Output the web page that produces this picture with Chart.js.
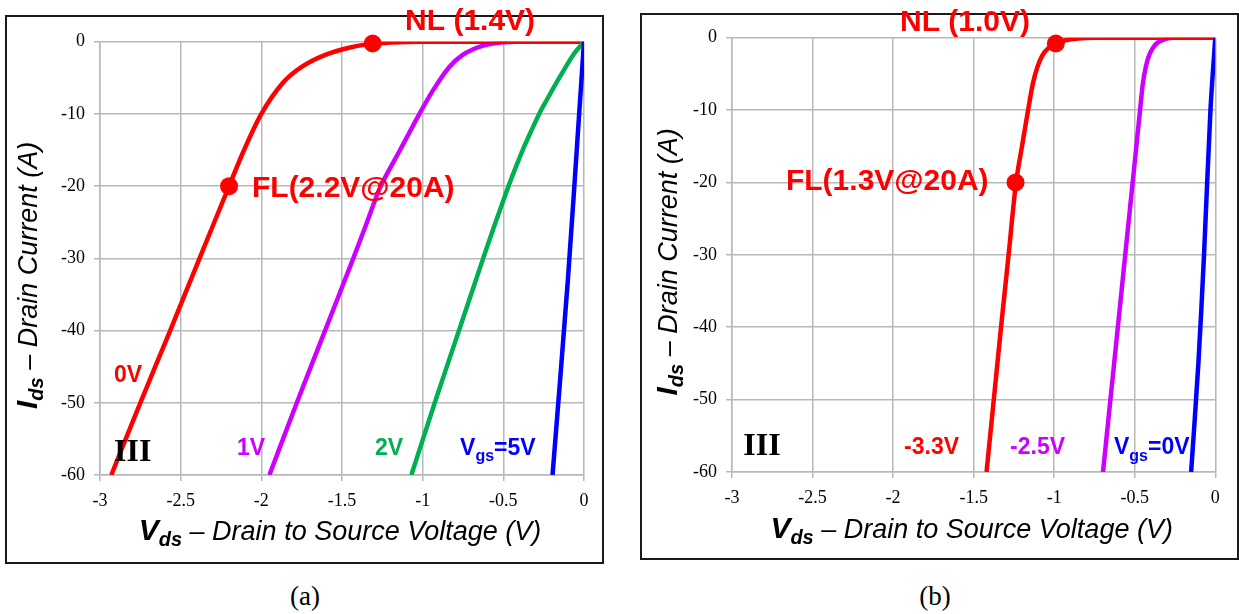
<!DOCTYPE html>
<html>
<head>
<meta charset="utf-8">
<script src="https://cdn.jsdelivr.net/npm/chart.js@4.4.1/dist/chart.umd.min.js"></script>
<style>
  body { margin: 0; background: #fff; width: 1239px; height: 614px; position: relative; overflow: hidden; }
  .panel { position: absolute; border: 2px solid #1a1a1a; box-sizing: border-box; }
  #boxA { left: 5px; top: 15px; width: 599px; height: 549px; }
  #boxB { left: 640px; top: 13px; width: 599px; height: 547px; }
  canvas { position: absolute; top: 0; }
  #chartA { left: 0; }
  #chartB { left: 620px; }
  .cap { position: absolute; top: 581px; width: 100px; text-align: center; font: 27px "Liberation Serif"; color: #000; }
</style>
</head>
<body>
  <div class="panel" id="boxA"></div>
  <div class="panel" id="boxB"></div>
  <canvas id="chartA" width="620" height="570"></canvas>
  <canvas id="chartB" width="619" height="570"></canvas>
  <div class="cap" style="left:255px">(a)</div>
  <div class="cap" style="left:885px">(b)</div>

<script>
// axis ticks
const xTickValues = [-3, -2.5, -2, -1.5, -1, -0.5, 0];
const xTickLabels = ["-3", "-2.5", "-2", "-1.5", "-1", "-0.5", "0"];
const yTickValues = [-60, -50, -40, -30, -20, -10, 0];
const yTickLabels = ["-60", "-50", "-40", "-30", "-20", "-10", "0"];

// (a) curves, Vds (V) and Ids (A)
const vdsA_0V = [-2.93, -2.75, -2.565, -2.383, -2.2, -2.107, -2.0, -1.87, -1.75, -1.6, -1.45, -1.31, -1.15, -1.0, -0.5, 0];
const idsA_0V = [-60, -50, -40, -30, -20, -15, -10, -5.8, -3.5, -1.8, -0.8, -0.3, -0.08, -0.02, 0, 0];
const vdsA_1V = [-1.95, -1.78, -1.605, -1.43, -1.345, -1.26, -1.14, -1.02, -0.935, -0.835, -0.75, -0.66, -0.575, -0.5, -0.43, 0];
const idsA_1V = [-60, -50, -40, -30, -25, -20, -15, -10, -6.7, -3.5, -1.8, -0.8, -0.3, -0.08, -0.01, 0];
const vdsA_2V = [-1.07, -0.925, -0.775, -0.625, -0.548, -0.468, -0.425, -0.38, -0.33, -0.278, -0.231, -0.149, -0.067, 0];
const idsA_2V = [-60, -50, -40, -30, -25, -20, -17.5, -15, -12.5, -10, -8.07, -4.85, -1.84, 0];
const vdsA_5V = [-0.195, -0.1, -0.03, 0];
const idsA_5V = [-60, -33, -10, 0];
const vdsA_pts = [-2.2, -1.31];
const idsA_pts = [-20, -0.25];

// (b) curves
const vdsB_m33V = [-1.42, -1.375, -1.33, -1.283, -1.237, -1.2, -1.162, -1.133, -1.105, -1.075, -1.04, -0.99, -0.93, -0.85, -0.75, -0.5, 0];
const idsB_m33V = [-60, -50, -40, -30, -20, -15, -10, -6.4, -4.1, -2.5, -1.5, -0.8, -0.35, -0.1, -0.02, 0, 0];
const vdsB_m25V = [-0.697, -0.651, -0.605, -0.559, -0.513, -0.49, -0.467, -0.45, -0.432, -0.412, -0.39, -0.365, -0.335, -0.3, -0.26, -0.2, 0];
const idsB_m25V = [-60, -50, -40, -30, -20, -15, -10, -6.4, -4.1, -2.5, -1.5, -0.8, -0.4, -0.12, -0.02, 0, 0];
const vdsB_0V = [-0.15, -0.105, -0.07, -0.03, 0];
const idsB_0V = [-60, -45, -30, -10, 0];
const vdsB_pts = [-1.24, -0.99];
const idsB_pts = [-20, -0.8];

const RED = "#ff0000", PURPLE = "#cc00ff", GREEN = "#00b050", BLUE = "#0000ff";
const SANS = '"Liberation Sans", Arial, sans-serif';
const SERIF = '"Liberation Serif", "Times New Roman", serif';

function pts(xs, ys) {
  return xs.map((x, i) => ({ x: x, y: ys[i] }));
}

function curve(xs, ys, color, order) {
  return {
    data: pts(xs, ys), borderColor: color, borderWidth: 4.5, pointRadius: 0,
    showLine: true, tension: 0.3, order: order
  };
}

function markers(xs, ys) {
  return {
    data: pts(xs, ys), backgroundColor: RED, pointBackgroundColor: RED, pointBorderWidth: 0,
    pointRadius: 9, showLine: false, order: -1, clip: false
  };
}

// draws a run of text pieces with different fonts (for subscripts)
function drawRich(ctx, segs, x, y, align, color) {
  let total = 0;
  segs.forEach(s => { ctx.font = s.font; s.w = ctx.measureText(s.t).width; total += s.w; });
  let cx = align === "center" ? x - total / 2 : x;
  ctx.fillStyle = color;
  ctx.textAlign = "left";
  ctx.textBaseline = "middle";
  segs.forEach(s => {
    ctx.font = s.font;
    ctx.fillText(s.t, cx, y + (s.dy || 0));
    cx += s.w;
  });
}

const b = (size) => "bold " + size + "px " + SANS;
const notesPlugin = {
  id: "notes",
  afterDatasetsDraw(chart, args, opts) {
    const ctx = chart.ctx, xs = chart.scales.x, ys = chart.scales.y, area = chart.chartArea;
    ctx.save();
    opts.labels.forEach(l => {
      drawRich(ctx, l.segs, xs.getPixelForValue(l.x), ys.getPixelForValue(l.y), "left", l.color);
    });
    // x title
    drawRich(ctx, [
      { t: "V", font: "bold italic 30px " + SANS },
      { t: "ds", font: "bold italic 20px " + SANS, dy: 8 },
      { t: " \u2013 Drain to Source Voltage (V)", font: "italic 27px " + SANS }
    ], (area.left + area.right) / 2 - 2, area.bottom + opts.xTitleDy, "center", "#000");
    // y title
    ctx.translate(area.left + opts.yTitleDx, (area.top + area.bottom) / 2 + opts.yTitleDy);
    ctx.rotate(-Math.PI / 2);
    drawRich(ctx, [
      { t: "I", font: "bold italic 30px " + SANS },
      { t: "ds", font: "bold italic 20px " + SANS, dy: 8 },
      { t: " \u2013 Drain Current (A)", font: "italic 27px " + SANS }
    ], 0, 0, "center", "#000");
    ctx.restore();
  }
};

function makeScales(yWidth, xHeight) {
  const grid = { color: "#b8b8b8", lineWidth: 1.5, tickLength: 6, tickColor: "#b8b8b8" };
  const tickFont = { family: SERIF, size: 18 };
  return {
    x: {
      type: "linear", min: -3, max: 0,
      grid: grid, border: { color: "#b8b8b8", width: 1.5 },
      ticks: {
        stepSize: 0.5, color: "#000", font: tickFont, padding: 9, maxRotation: 0,
        callback: (v) => { const i = xTickValues.indexOf(v); return i < 0 ? "" : xTickLabels[i]; }
      },
      afterFit: (s) => { s.height = xHeight; }
    },
    y: {
      type: "linear", min: -60, max: 0,
      grid: grid, border: { color: "#b8b8b8", width: 1.5 },
      ticks: {
        stepSize: 10, color: "#000", font: tickFont, padding: 9,
        callback: (v) => { const i = yTickValues.indexOf(v); return i < 0 ? "" : yTickLabels[i]; }
      },
      afterFit: (s) => { s.width = yWidth; }
    }
  };
}

new Chart("chartA", {
  type: "scatter",
  data: {
    datasets: [
      markers(vdsA_pts, idsA_pts),
      curve(vdsA_5V, idsA_5V, BLUE, 0),
      curve(vdsA_2V, idsA_2V, GREEN, 1),
      curve(vdsA_0V, idsA_0V, RED, 2),
      curve(vdsA_1V, idsA_1V, PURPLE, 3)
    ]
  },
  options: {
    responsive: false, animation: false, devicePixelRatio: 1,
    layout: { padding: { left: 0, top: 41.7, right: 36, bottom: 0 } },
    scales: makeScales(100, 95),
    plugins: {
      legend: { display: false }, tooltip: { enabled: false },
      notes: {
        xTitleDy: 57, yTitleDx: -71, yTitleDy: 17,
        labels: [
          { x: -1.109, y: 2.7, color: RED, segs: [{ t: "NL (1.4V)", font: b(30) }] },
          { x: -2.058, y: -20.3, color: RED, segs: [{ t: "FL(2.2V@20A)", font: b(30) }] },
          { x: -2.913, y: -46.3, color: RED, segs: [{ t: "0V", font: b(23) }] },
          { x: -2.151, y: -56.3, color: PURPLE, segs: [{ t: "1V", font: b(23) }] },
          { x: -1.295, y: -56.3, color: GREEN, segs: [{ t: "2V", font: b(23) }] },
          { x: -0.768, y: -56.3, color: BLUE, segs: [{ t: "V", font: b(23) }, { t: "gs", font: b(16), dy: 8 }, { t: "=5V", font: b(23) }] },
          { x: -2.913, y: -56.95, color: "#000", segs: [{ t: "III", font: "bold 32px " + SERIF }] }
        ]
      }
    }
  },
  plugins: [notesPlugin]
});

new Chart("chartB", {
  type: "scatter",
  data: {
    datasets: [
      markers(vdsB_pts, idsB_pts),
      curve(vdsB_0V, idsB_0V, BLUE, 0),
      curve(vdsB_m33V, idsB_m33V, RED, 1),
      curve(vdsB_m25V, idsB_m25V, PURPLE, 2)
    ]
  },
  options: {
    responsive: false, animation: false, devicePixelRatio: 1,
    layout: { padding: { left: 0, top: 37.7, right: 23.7, bottom: 0 } },
    scales: makeScales(112, 98),
    plugins: {
      legend: { display: false }, tooltip: { enabled: false },
      notes: {
        xTitleDy: 58, yTitleDx: -63, yTitleDy: 7,
        labels: [
          { x: -1.957, y: 2.0, color: RED, segs: [{ t: "NL (1.0V)", font: b(30) }] },
          { x: -2.665, y: -19.9, color: RED, segs: [{ t: "FL(1.3V@20A)", font: b(30) }] },
          { x: -2.93, y: -56.5, color: "#000", segs: [{ t: "III", font: "bold 32px " + SERIF }] },
          { x: -1.932, y: -56.7, color: RED, segs: [{ t: "-3.3V", font: b(23) }] },
          { x: -1.274, y: -56.7, color: PURPLE, segs: [{ t: "-2.5V", font: b(23) }] },
          { x: -0.629, y: -56.7, color: BLUE, segs: [{ t: "V", font: b(23) }, { t: "gs", font: b(16), dy: 8 }, { t: "=0V", font: b(23) }] }
        ]
      }
    }
  },
  plugins: [notesPlugin]
});
</script>
</body>
</html>
